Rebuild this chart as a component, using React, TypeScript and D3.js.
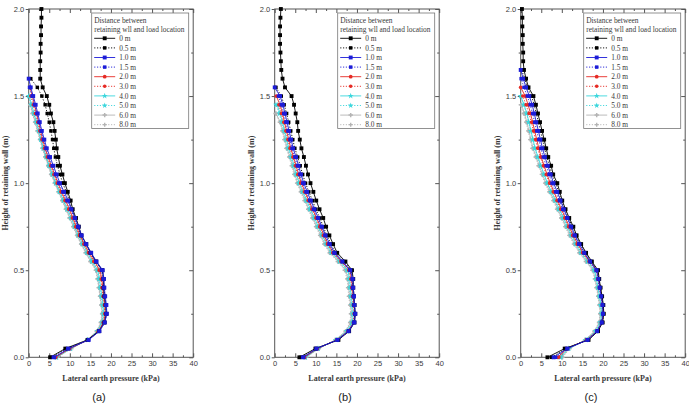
import React, { useRef, useEffect } from 'react';
import * as d3 from 'd3';

// Heights along the wall (m), sampled every 0.05 m from the base upward
const heights = [
    0, 0.05, 0.1, 0.15, 0.2, 0.25, 0.3, 0.35, 0.4, 0.45, 0.5, 0.55, 0.6, 0.65,
    0.7, 0.75, 0.8, 0.85, 0.9, 0.95, 1.0, 1.05, 1.1, 1.15, 1.2, 1.25, 1.3, 1.35,
    1.4, 1.45, 1.5, 1.55, 1.6, 1.65, 1.7, 1.75, 1.8, 1.85, 1.9, 1.95, 2.0,
];

const distanceLabels = [
    '0 m', '0.5 m', '1.0 m', '1.5 m', '2.0 m',
    '3.0 m', '4.0 m', '5.0 m', '6.0 m', '8.0 m',
];
const legendTitle = ['Distance between', 'retaining wll and load location'];
const pressureTicks = [0, 5, 10, 15, 20, 25, 30, 35, 40];
const pressureMinorTicks = [2.5, 7.5, 12.5, 17.5, 22.5, 27.5, 32.5, 37.5];
const heightTicks = [0, 0.5, 1.0, 1.5, 2.0];
const heightMinorTicks = [0.25, 0.75, 1.25, 1.75];
const panelLabels = ['(a)', '(b)', '(c)'];

// Lateral earth pressure (kPa) per load distance, from the base upward
const pressureA0 = [5.2, 8.9, 14.3, 17.1, 18.4, 18.9, 18.7, 18.4, 18.2, 18.2, 17.9, 16.4, 15.1, 14.0, 12.8, 12.2, 11.5, 10.7, 10.2, 9.5, 8.8, 8.2, 7.6, 7.2, 6.8, 6.6, 6.3, 6.0, 5.4, 5.0, 4.4, 3.4, 2.8, 2.8, 2.8, 2.9, 2.9, 3.0, 3.0, 3.1, 3.1];
const pressureA05 = [5.4, 9.2, 14.4, 17.2, 18.5, 18.9, 18.8, 18.5, 18.3, 18.2, 17.9, 16.3, 15.0, 13.9, 12.7, 12.0, 11.3, 10.5, 9.9, 9.1, 8.3, 7.6, 7.0, 6.5, 6.1, 5.8, 5.4, 5.0, 4.5, 4.0, 3.2, 2.1, 0.5];
const pressureA10 = [6.2, 9.7, 14.6, 17.2, 18.5, 19.0, 18.9, 18.6, 18.4, 18.3, 18.0, 16.5, 15.2, 14.0, 12.9, 12.1, 11.3, 10.4, 9.6, 8.6, 7.6, 6.8, 6.0, 5.2, 4.4, 3.8, 3.2, 2.7, 2.2, 1.7, 1.1, 0.5, 0.0];
const pressureA15 = [6.0, 9.5, 14.5, 17.1, 18.4, 18.8, 18.7, 18.4, 18.2, 18.1, 17.7, 16.3, 15.0, 13.8, 12.7, 11.9, 11.1, 10.2, 9.3, 8.3, 7.3, 6.5, 5.7, 4.9, 4.2, 3.6, 3.0, 2.5, 2.0, 1.4, 0.8, 0.2];
const pressureA20 = [6.5, 9.9, 14.5, 17.0, 18.2, 18.6, 18.5, 18.2, 18.0, 17.8, 17.3, 16.0, 14.7, 13.5, 12.5, 11.6, 10.8, 9.9, 9.0, 8.0, 7.1, 6.3, 5.5, 4.7, 4.0, 3.4, 2.9, 2.4, 1.9, 1.4, 0.9, 0.3];
const pressureA30 = [6.6, 10.0, 14.4, 16.9, 18.1, 18.5, 18.4, 18.1, 17.8, 17.6, 17.1, 15.8, 14.5, 13.4, 12.3, 11.4, 10.6, 9.7, 8.8, 7.8, 6.9, 6.1, 5.3, 4.5, 3.8, 3.2, 2.7, 2.2, 1.6, 1.1, 0.5];
const pressureA40 = [6.7, 10.1, 14.4, 16.8, 17.9, 18.2, 18.1, 17.8, 17.5, 17.2, 16.8, 15.5, 14.3, 13.2, 12.1, 11.2, 10.4, 9.4, 8.5, 7.6, 6.6, 5.8, 5.0, 4.3, 3.6, 3.0, 2.5, 1.9, 1.3, 0.7, 0.1];
const pressureA50 = [6.8, 10.2, 14.3, 16.7, 17.8, 18.1, 17.9, 17.6, 17.3, 17.0, 16.6, 15.3, 14.1, 13.0, 12.0, 11.1, 10.2, 9.3, 8.4, 7.4, 6.5, 5.7, 4.9, 4.2, 3.5, 2.9, 2.4, 1.8, 1.2, 0.6, 0.0];
const pressureA60 = [6.9, 10.3, 14.3, 16.6, 17.6, 17.9, 17.7, 17.4, 17.1, 16.8, 16.4, 15.1, 13.9, 12.8, 11.8, 10.9, 10.0, 9.1, 8.2, 7.3, 6.4, 5.5, 4.8, 4.1, 3.4, 2.8, 2.2, 1.6, 1.0, 0.4];
const pressureA80 = [7.0, 10.4, 14.2, 16.5, 17.5, 17.8, 17.6, 17.3, 17.0, 16.7, 16.3, 15.0, 13.8, 12.7, 11.7, 10.8, 9.9, 9.0, 8.1, 7.2, 6.3, 5.4, 4.7, 4.0, 3.3, 2.7, 2.1, 1.5, 0.9, 0.3];

const pressureB0 = [6.0, 9.9, 15.5, 18.1, 19.4, 19.6, 19.4, 19.3, 19.1, 19.1, 18.8, 17.2, 15.2, 14.2, 13.3, 12.5, 11.8, 10.9, 10.1, 9.4, 8.7, 8.1, 7.6, 7.1, 6.5, 6.1, 5.7, 5.5, 5.1, 4.7, 4.1, 2.5, 1.9, 1.6, 1.5, 1.4, 1.3, 1.3, 1.3, 1.4, 1.5];
const pressureB05 = [6.4, 10.0, 15.4, 18.0, 19.3, 19.5, 19.4, 19.2, 19.0, 19.0, 18.6, 16.8, 14.8, 13.7, 12.7, 11.8, 11.0, 10.0, 9.2, 8.3, 7.5, 6.8, 6.2, 5.6, 4.9, 4.4, 3.9, 3.4, 2.9, 2.3, 1.6, 0.3];
const pressureB10 = [7.0, 10.2, 15.3, 18.0, 19.4, 19.6, 19.4, 19.3, 19.1, 19.0, 18.4, 16.5, 14.6, 13.4, 12.4, 11.5, 10.6, 9.7, 8.8, 7.9, 7.1, 6.4, 5.8, 5.2, 4.5, 4.0, 3.5, 3.0, 2.5, 2.0, 1.3, 0.0];
const pressureB15 = [6.8, 10.1, 15.2, 17.9, 19.2, 19.5, 19.3, 19.1, 18.9, 18.8, 18.3, 16.4, 14.4, 13.2, 12.2, 11.3, 10.4, 9.4, 8.5, 7.6, 6.8, 6.1, 5.5, 4.9, 4.2, 3.7, 3.2, 2.7, 2.2, 1.6, 0.9];
const pressureB20 = [7.2, 10.3, 15.2, 17.9, 19.3, 19.5, 19.3, 19.1, 18.9, 18.7, 18.3, 16.3, 14.3, 13.0, 12.0, 11.1, 10.2, 9.2, 8.3, 7.4, 6.5, 5.8, 5.2, 4.6, 3.9, 3.4, 2.9, 2.4, 1.9, 1.3, 0.4];
const pressureB30 = [7.3, 10.4, 15.1, 17.8, 19.1, 19.3, 19.1, 18.9, 18.7, 18.5, 18.0, 16.1, 14.1, 12.8, 11.8, 10.9, 10.0, 9.0, 8.1, 7.2, 6.3, 5.6, 5.0, 4.4, 3.7, 3.2, 2.7, 2.2, 1.6, 1.0];
const pressureB40 = [7.4, 10.5, 15.0, 17.6, 18.9, 19.1, 18.9, 18.6, 18.4, 18.2, 17.8, 15.9, 13.9, 12.6, 11.6, 10.6, 9.7, 8.7, 7.8, 6.9, 6.0, 5.3, 4.7, 4.1, 3.4, 2.9, 2.4, 1.9, 1.3, 0.6];
const pressureB50 = [7.5, 10.6, 14.9, 17.5, 18.7, 18.9, 18.7, 18.4, 18.2, 18.0, 17.5, 15.7, 13.7, 12.4, 11.4, 10.4, 9.5, 8.5, 7.6, 6.7, 5.8, 5.1, 4.5, 3.9, 3.2, 2.7, 2.2, 1.7, 1.1, 0.3];
const pressureB60 = [7.6, 10.7, 14.8, 17.3, 18.5, 18.7, 18.5, 18.2, 18.0, 17.8, 17.3, 15.5, 13.5, 12.2, 11.2, 10.2, 9.3, 8.3, 7.4, 6.5, 5.6, 4.9, 4.3, 3.7, 3.0, 2.5, 2.0, 1.4, 0.3];
const pressureB80 = [7.7, 10.8, 14.7, 17.2, 18.3, 18.5, 18.3, 18.0, 17.8, 17.6, 17.0, 15.3, 13.3, 12.0, 11.0, 10.0, 9.1, 8.1, 7.2, 6.3, 5.4, 4.7, 4.1, 3.5, 2.8, 2.3, 1.8, 1.2, 0.2];

const pressureC0 = [6.5, 10.7, 16.5, 18.8, 19.9, 20.2, 20.1, 19.8, 19.4, 19.1, 18.8, 17.3, 15.9, 14.7, 13.6, 12.8, 11.8, 10.9, 10.1, 9.5, 8.9, 7.9, 7.4, 6.7, 6.2, 5.7, 5.2, 4.7, 4.2, 3.7, 3.1, 1.9, 1.3, 0.8, 0.6, 0.6, 0.5, 0.5, 0.4, 0.4, 0.3];
const pressureC05 = [7.5, 11.0, 16.4, 18.8, 19.9, 20.1, 20.0, 19.7, 19.4, 19.0, 18.7, 17.2, 15.8, 14.6, 13.5, 12.6, 11.6, 10.7, 9.9, 9.2, 8.5, 7.6, 7.0, 6.3, 5.8, 5.3, 4.8, 4.3, 3.8, 3.3, 2.6, 1.6, 1.0, 0.2];
const pressureC10 = [8.0, 11.3, 16.3, 18.6, 19.7, 20.0, 19.9, 19.6, 19.2, 18.9, 18.4, 16.9, 15.5, 14.3, 13.2, 12.3, 11.4, 10.5, 9.7, 8.9, 8.0, 7.3, 6.6, 5.9, 5.3, 4.8, 4.3, 3.8, 3.3, 2.8, 2.1, 1.3, 0.6, 0.0];
const pressureC15 = [8.5, 11.4, 16.2, 18.6, 19.7, 20.0, 19.9, 19.5, 19.2, 18.9, 18.5, 16.9, 15.4, 14.1, 13.0, 12.1, 11.2, 10.2, 9.4, 8.5, 7.6, 6.9, 6.2, 5.5, 4.9, 4.4, 3.9, 3.4, 2.9, 2.3, 1.6, 0.8, 0.1];
const pressureC20 = [9.0, 11.2, 16.1, 18.6, 19.8, 20.1, 20.0, 19.7, 19.3, 19.0, 18.6, 16.8, 15.2, 13.9, 12.8, 11.8, 10.9, 9.9, 9.0, 8.1, 7.2, 6.4, 5.7, 5.0, 4.4, 3.9, 3.4, 2.9, 2.4, 1.8, 1.1, 0.0];
const pressureC30 = [9.3, 11.4, 16.0, 18.5, 19.6, 19.9, 19.8, 19.5, 19.1, 18.7, 18.3, 16.6, 15.0, 13.7, 12.6, 11.6, 10.7, 9.7, 8.8, 7.9, 7.0, 6.2, 5.5, 4.8, 4.1, 3.6, 3.1, 2.6, 2.0, 1.3, 0.5];
const pressureC40 = [9.6, 11.6, 15.9, 18.3, 19.4, 19.7, 19.5, 19.2, 18.8, 18.4, 18.0, 16.4, 14.8, 13.5, 12.4, 11.4, 10.4, 9.4, 8.5, 7.5, 6.5, 5.7, 4.9, 4.2, 3.5, 3.0, 2.5, 2.0, 1.5, 0.8, 0.0];
const pressureC50 = [9.8, 11.7, 15.8, 18.2, 19.3, 19.6, 19.4, 19.1, 18.7, 18.3, 17.8, 16.2, 14.6, 13.3, 12.2, 11.2, 10.2, 9.2, 8.3, 7.3, 6.4, 5.6, 4.8, 4.1, 3.4, 2.9, 2.4, 1.9, 1.4, 0.7, 0.1];
const pressureC60 = [10.0, 11.8, 15.7, 18.0, 19.1, 19.4, 19.2, 18.9, 18.5, 18.1, 17.6, 16.0, 14.4, 13.1, 12.0, 11.0, 10.0, 9.0, 8.1, 7.1, 6.1, 5.3, 4.5, 3.8, 3.0, 2.5, 2.0, 1.5, 0.9, 0.2];
const pressureC80 = [10.2, 11.9, 15.6, 17.9, 19.0, 19.3, 19.1, 18.8, 18.4, 18.0, 17.4, 15.8, 14.2, 12.9, 11.8, 10.8, 9.8, 8.8, 7.9, 6.9, 5.9, 5.1, 4.3, 3.6, 2.8, 2.3, 1.8, 1.3, 0.7, 0.0];

const panelSeries = [
    [pressureA0, pressureA05, pressureA10, pressureA15, pressureA20, pressureA30, pressureA40, pressureA50, pressureA60, pressureA80],
    [pressureB0, pressureB05, pressureB10, pressureB15, pressureB20, pressureB30, pressureB40, pressureB50, pressureB60, pressureB80],
    [pressureC0, pressureC05, pressureC10, pressureC15, pressureC20, pressureC30, pressureC40, pressureC50, pressureC60, pressureC80],
];

const seriesStyles = [
    { color: '#000000', dotted: false, symbol: d3.symbolSquare, size: 15 },
    { color: '#000000', dotted: true, symbol: d3.symbolSquare, size: 12 },
    { color: '#1c1cd8', dotted: false, symbol: d3.symbolSquare, size: 15 },
    { color: '#1c1cd8', dotted: true, symbol: d3.symbolSquare, size: 12 },
    { color: '#e62a24', dotted: false, symbol: d3.symbolCircle, size: 11 },
    { color: '#e62a24', dotted: true, symbol: d3.symbolCircle, size: 10 },
    { color: '#39d6dc', dotted: false, symbol: d3.symbolStar, size: 11 },
    { color: '#39d6dc', dotted: true, symbol: d3.symbolStar, size: 10 },
    { color: '#b4b4b4', dotted: false, symbol: d3.symbolCross, size: 11 },
    { color: '#b4b4b4', dotted: true, symbol: d3.symbolCross, size: 9 },
];

// gray first, blue last so the near-load curves stay on top
const drawOrder = [9, 8, 7, 6, 5, 4, 1, 0, 3, 2];

const WIDTH = 689;
const HEIGHT = 405;
const PLOT_LEFT = 28.7;
const PANEL_STEP = 246;
const PLOT_W = 164.5;
const PLOT_TOP = 9;
const PLOT_BOTTOM = 357.3;
const AXIS_COLOR = '#555555';
const TEXT_COLOR = '#3a3a3a';
const SANS = '"Liberation Sans", Arial, sans-serif';
const SERIF = '"Liberation Serif", "Times New Roman", serif';

const App: React.FC = () => {
    const svgRef = useRef<SVGSVGElement | null>(null);

    useEffect(() => {
        document.body.style.margin = '0';
        if (!svgRef.current) return;
        const svg = d3.select(svgRef.current);
        svg.selectAll('*').remove();

        panelSeries.forEach((seriesList, p) => {
            const left = PLOT_LEFT + p * PANEL_STEP;
            const x = d3.scaleLinear().domain([0, 40]).range([left, left + PLOT_W]);
            const y = d3.scaleLinear().domain([0, 2]).range([PLOT_BOTTOM, PLOT_TOP]);
            const g = svg.append('g');

            const styleAxis = (sel: d3.Selection<SVGGElement, unknown, null, undefined>) => {
                sel.select('.domain').remove();
                sel.selectAll('.tick line').attr('stroke', AXIS_COLOR);
                sel.selectAll('.tick text')
                    .attr('fill', TEXT_COLOR)
                    .style('font-family', SANS)
                    .style('font-size', '7.5px');
            };

            // bottom axis, ticks pointing in
            g.append('g')
                .attr('transform', `translate(0,${PLOT_BOTTOM})`)
                .call(d3.axisBottom(x).tickValues(pressureTicks).tickSizeInner(-4).tickSizeOuter(0).tickPadding(3.5))
                .call(styleAxis);
            g.append('g')
                .attr('transform', `translate(0,${PLOT_BOTTOM})`)
                .call(d3.axisBottom(x).tickValues(pressureMinorTicks).tickSizeInner(-2).tickSizeOuter(0).tickFormat(() => ''))
                .call(styleAxis);

            // top axis, no labels
            g.append('g')
                .attr('transform', `translate(0,${PLOT_TOP})`)
                .call(d3.axisTop(x).tickValues(pressureTicks).tickSizeInner(-4).tickSizeOuter(0).tickFormat(() => ''))
                .call(styleAxis);
            g.append('g')
                .attr('transform', `translate(0,${PLOT_TOP})`)
                .call(d3.axisTop(x).tickValues(pressureMinorTicks).tickSizeInner(-2).tickSizeOuter(0).tickFormat(() => ''))
                .call(styleAxis);

            // left axis, ticks pointing out
            g.append('g')
                .attr('transform', `translate(${left},0)`)
                .call(d3.axisLeft(y).tickValues(heightTicks).tickSizeInner(3).tickSizeOuter(0).tickPadding(1.5).tickFormat(d3.format('.1f')))
                .call(styleAxis);
            g.append('g')
                .attr('transform', `translate(${left},0)`)
                .call(d3.axisLeft(y).tickValues(heightMinorTicks).tickSizeInner(2).tickSizeOuter(0).tickFormat(() => ''))
                .call(styleAxis);

            // right axis, ticks pointing in
            g.append('g')
                .attr('transform', `translate(${left + PLOT_W},0)`)
                .call(d3.axisRight(y).tickValues(heightTicks).tickSizeInner(-4).tickSizeOuter(0).tickFormat(() => ''))
                .call(styleAxis);
            g.append('g')
                .attr('transform', `translate(${left + PLOT_W},0)`)
                .call(d3.axisRight(y).tickValues(heightMinorTicks).tickSizeInner(-2).tickSizeOuter(0).tickFormat(() => ''))
                .call(styleAxis);

            // frame
            g.append('rect')
                .attr('x', left)
                .attr('y', PLOT_TOP)
                .attr('width', PLOT_W)
                .attr('height', PLOT_BOTTOM - PLOT_TOP)
                .attr('fill', 'none')
                .attr('stroke', AXIS_COLOR)
                .attr('stroke-width', 1);

            // curves
            const line = d3
                .line<number>()
                .x((d) => x(d))
                .y((_, i) => y(heights[i]));

            drawOrder.forEach((s) => {
                const values = seriesList[s];
                const st = seriesStyles[s];
                g.append('path')
                    .datum(values)
                    .attr('fill', 'none')
                    .attr('stroke', st.color)
                    .attr('stroke-width', 0.9)
                    .attr('stroke-dasharray', st.dotted ? '1.2,1.6' : null)
                    .attr('d', line);
                g.selectAll(null)
                    .data(values)
                    .enter()
                    .append('path')
                    .attr('d', d3.symbol().type(st.symbol).size(st.size)() as string)
                    .attr('transform', (d, i) => `translate(${x(d)},${y(heights[i])})`)
                    .attr('fill', st.color);
            });

            // legend
            const lx = left + 63;
            const legend = g.append('g');
            legend.append('rect')
                .attr('x', lx)
                .attr('y', 13)
                .attr('width', 97)
                .attr('height', 115.5)
                .attr('fill', '#ffffff')
                .attr('stroke', '#777777')
                .attr('stroke-width', 0.8);
            legendTitle.forEach((t, i) => {
                legend.append('text')
                    .attr('x', lx + 2.5)
                    .attr('y', 22.7 + i * 9.4)
                    .attr('fill', TEXT_COLOR)
                    .style('font-family', SERIF)
                    .style('font-size', '7.4px')
                    .text(t);
            });
            distanceLabels.forEach((label, i) => {
                const st = seriesStyles[i];
                const cy = 38.3 + i * 9.6;
                legend.append('line')
                    .attr('x1', lx + 2.5)
                    .attr('x2', lx + 23.5)
                    .attr('y1', cy)
                    .attr('y2', cy)
                    .attr('stroke', st.color)
                    .attr('stroke-width', 0.9)
                    .attr('stroke-dasharray', st.dotted ? '1.2,1.6' : null);
                legend.append('path')
                    .attr('d', d3.symbol().type(st.symbol).size(st.size)() as string)
                    .attr('transform', `translate(${lx + 13},${cy})`)
                    .attr('fill', st.color);
                legend.append('text')
                    .attr('x', lx + 27.5)
                    .attr('y', cy + 2.6)
                    .attr('fill', TEXT_COLOR)
                    .style('font-family', SERIF)
                    .style('font-size', '7.4px')
                    .text(label);
            });

            // axis titles
            const midX = left + PLOT_W / 2;
            g.append('text')
                .attr('transform', `translate(${left - 21},${(PLOT_TOP + PLOT_BOTTOM) / 2}) rotate(-90)`)
                .attr('text-anchor', 'middle')
                .attr('fill', TEXT_COLOR)
                .style('font-family', SERIF)
                .style('font-weight', 'bold')
                .style('font-size', '8px')
                .text('Height of retaining wall (m)');
            g.append('text')
                .attr('x', midX)
                .attr('y', 381)
                .attr('text-anchor', 'middle')
                .attr('fill', TEXT_COLOR)
                .style('font-family', SERIF)
                .style('font-weight', 'bold')
                .style('font-size', '8px')
                .text('Lateral earth pressure (kPa)');
            g.append('text')
                .attr('x', midX - 12)
                .attr('y', 401)
                .attr('text-anchor', 'middle')
                .attr('fill', '#222222')
                .style('font-family', SANS)
                .style('font-size', '11px')
                .text(panelLabels[p]);
        });
    }, []);

    return (
        <svg
            ref={svgRef}
            width={WIDTH}
            height={HEIGHT}
            style={{ display: 'block', background: '#ffffff' }}
        ></svg>
    );
};

export default App;
